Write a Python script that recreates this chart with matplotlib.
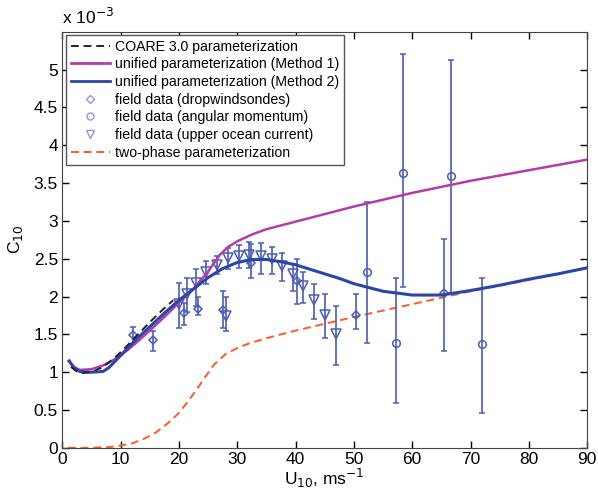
import numpy as np
import matplotlib
matplotlib.use("Agg")
import matplotlib.pyplot as plt
from matplotlib.lines import Line2D

plt.rcParams['font.family'] = ['Liberation Sans', 'DejaVu Sans']

# drag coefficient curves, C10 in units of 1e-3
coare_u = [1.5, 2.5, 3.5, 5, 7, 9, 11, 13, 15, 17, 19]
coare_c = [1.07, 1.01, 0.99, 1.0, 1.07, 1.19, 1.34, 1.5, 1.66, 1.81, 1.95]

m1_u = [1.2, 2, 3, 5, 7, 9, 11, 13, 15, 17.5, 20, 22.5, 25, 27, 28.5, 30, 32.5, 35,
        40, 45, 50, 55, 60, 65, 70, 75, 80, 85, 90]
m1_c = [1.14, 1.07, 1.03, 1.04, 1.09, 1.17, 1.28, 1.41, 1.55, 1.73, 1.92, 2.1, 2.33,
        2.55, 2.66, 2.73, 2.82, 2.89, 2.99, 3.09, 3.19, 3.28, 3.37, 3.45, 3.53, 3.6,
        3.67, 3.74, 3.81]

m2_u = [1.2, 2, 3, 5, 7, 8, 10, 12.5, 15, 17.5, 20, 22.5, 25, 27.5, 30, 32.5, 35,
        37.5, 40, 42.5, 45, 47.5, 50, 55, 60, 65, 70, 75, 80, 85, 90]
m2_c = [1.15, 1.06, 1.01, 1.0, 1.01, 1.06, 1.22, 1.42, 1.6, 1.78, 1.95, 2.1, 2.25,
        2.37, 2.45, 2.49, 2.49, 2.46, 2.42, 2.36, 2.3, 2.24, 2.17, 2.07, 2.02, 2.02,
        2.08, 2.15, 2.23, 2.3, 2.38]

tp_u = [1, 4, 8, 10, 12, 14, 16, 18, 20, 22, 24, 26, 28, 30, 32, 35, 40, 50, 60,
        70, 80, 90]
tp_c = [0.0, 0.0, 0.01, 0.03, 0.06, 0.12, 0.2, 0.32, 0.46, 0.66, 0.88, 1.1, 1.24,
        1.32, 1.38, 1.45, 1.55, 1.73, 1.9, 2.07, 2.22, 2.38]

# field data: value with lower / upper bound of the error bar
drop_u = [12.1, 15.5, 20.8, 23.3, 27.6, 32.4, 40.2, 50.3, 65.5]
drop_c = [1.49, 1.42, 1.78, 1.84, 1.82, 2.45, 2.2, 1.75, 2.05]
drop_lo = [1.37, 1.28, 1.62, 1.75, 1.59, 2.25, 1.9, 1.57, 1.28]
drop_hi = [1.6, 1.55, 1.92, 1.99, 2.07, 2.7, 2.5, 2.04, 2.76]

ang_u = [52.3, 57.3, 58.5, 66.6, 71.9]
ang_c = [2.32, 1.39, 3.63, 3.6, 1.37]
ang_lo = [1.38, 0.59, 2.13, 2.05, 0.46]
ang_hi = [3.25, 2.24, 5.2, 5.12, 2.24]

curr_u = [20.0, 21.4, 23.0, 24.7, 26.5, 28.4, 30.3, 32.0, 34.1, 36.0, 37.7, 39.5,
          41.3, 43.1, 45.0, 47.0, 28.1]
curr_c = [1.9, 2.04, 2.18, 2.32, 2.42, 2.51, 2.54, 2.55, 2.54, 2.49, 2.4, 2.3,
          2.14, 1.96, 1.75, 1.5, 1.74]
curr_lo = [1.59, 1.79, 1.88, 2.17, 2.3, 2.37, 2.38, 2.38, 2.3, 2.3, 2.2, 2.07,
           1.92, 1.71, 1.45, 1.1, 1.55]
curr_hi = [2.18, 2.25, 2.37, 2.47, 2.53, 2.64, 2.68, 2.72, 2.71, 2.66, 2.57, 2.43,
           2.32, 2.17, 2.03, 1.87, 1.99]

ebar_col = '#4a5cb8'
fig = plt.figure(figsize=(5.98, 4.96), dpi=100)
ax = fig.add_axes([0.104, 0.097, 0.878, 0.839])


def field(u, c, lo, hi, marker, ms):
    c = np.array(c)
    yerr = [c - np.array(lo), np.array(hi) - c]
    ax.errorbar(u, c, yerr=yerr, fmt=marker, color=ebar_col, mfc='none',
                mec=ebar_col, ms=ms, mew=1.1, elinewidth=1.2, capsize=2,
                capthick=1.1, zorder=3)


field(drop_u, drop_c, drop_lo, drop_hi, 'D', 4.5)
field(ang_u, ang_c, ang_lo, ang_hi, 'o', 5.5)
field(curr_u, curr_c, curr_lo, curr_hi, 'v', 6.5)

ax.plot(tp_u, tp_c, '--', color='#ff5a2a', lw=1.4, dashes=(4, 2.5), zorder=2)
ax.plot(m1_u, m1_c, color='#b43ca8', lw=1.8, zorder=4)
ax.plot(m2_u, m2_c, color='#2b45a8', lw=2.2, zorder=5)
ax.plot(coare_u, coare_c, '--', color='#222222', lw=1.4, dashes=(4, 2.5), zorder=6)

ax.set_xlim(0, 90)
ax.set_ylim(0, 5.5)
ax.set_xticks(np.arange(0, 91, 10))
ax.set_yticks(np.arange(0, 5.01, 0.5))
ax.set_yticklabels(['0', '0.5', '1', '1.5', '2', '2.5', '3', '3.5', '4', '4.5', '5'])
ax.tick_params(direction='in', length=5, width=1, top=True, right=True,
               labelsize=12.5, pad=3)
for s in ax.spines.values():
    s.set_color('#444444')

ax.set_xlabel(r'U$_{10}$, ms$^{-1}$', fontsize=12.5, labelpad=0)
ax.set_ylabel(r'C$_{10}$', fontsize=12.5, labelpad=6)
ax.text(0.0, 1.012, r'x 10$^{-3}$', transform=ax.transAxes, fontsize=12.5,
        ha='left', va='bottom')

leg_col = '#8c9ad8'
handles = [
    Line2D([], [], color='#222222', ls='--', lw=1.4, dashes=(4, 2.5)),
    Line2D([], [], color='#b43ca8', lw=2),
    Line2D([], [], color='#2b45a8', lw=2),
    Line2D([], [], ls='none', marker='D', ms=4.5, mfc='none', mec=leg_col, mew=1),
    Line2D([], [], ls='none', marker='o', ms=5, mfc='none', mec=leg_col, mew=1),
    Line2D([], [], ls='none', marker='v', ms=5.5, mfc='none', mec=leg_col, mew=1),
    Line2D([], [], color='#ff5a2a', ls='--', lw=1.4, dashes=(4, 2.5)),
]
labels = ['COARE 3.0 parameterization',
          'unified parameterization (Method 1)',
          'unified parameterization (Method 2)',
          'field data (dropwindsondes)',
          'field data (angular momentum)',
          'field data (upper ocean current)',
          'two-phase parameterization']
leg = ax.legend(handles, labels, loc='upper left', bbox_to_anchor=(0.008, 0.993),
                fontsize=10.2, handlelength=2.7, handletextpad=0.35,
                labelspacing=0.26, borderpad=0.35, fancybox=False,
                framealpha=1, edgecolor='#555555', borderaxespad=0)
leg.get_frame().set_linewidth(1)

fig.savefig('out.png', dpi=100)
